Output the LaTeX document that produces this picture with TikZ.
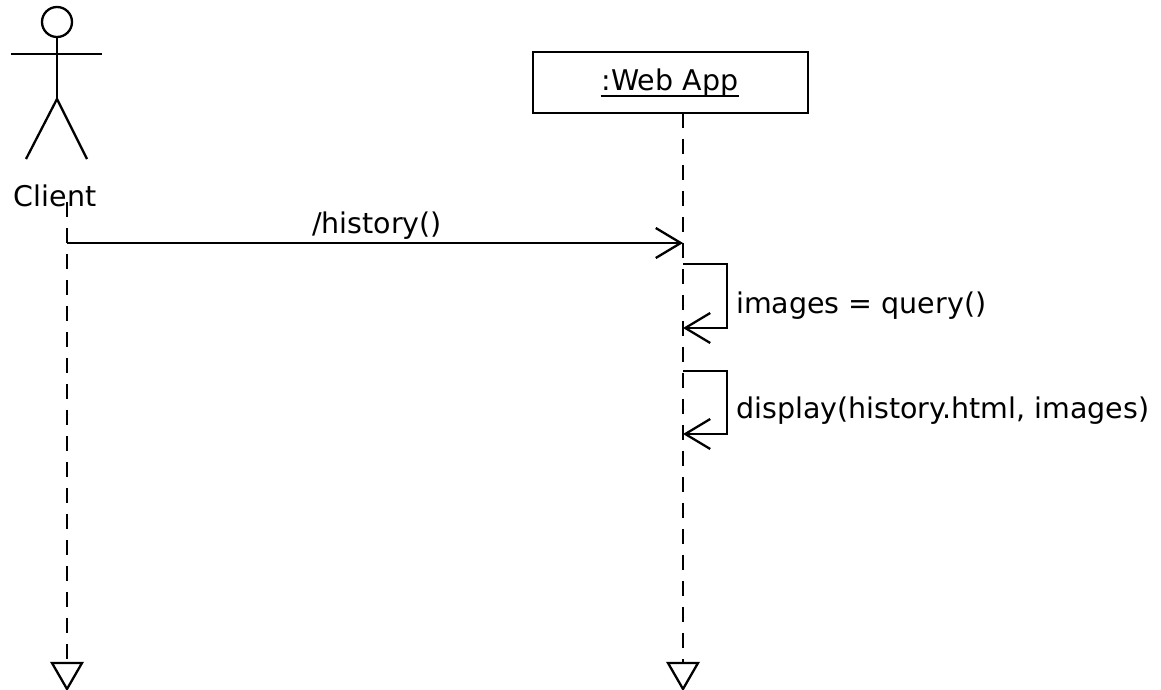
\documentclass[tikz,border=0pt]{standalone}
\usepackage{fontspec}
\setmainfont{DejaVu Sans}
\usetikzlibrary{arrows.meta}
\begin{document}
\begin{tikzpicture}[x=1pt,y=-1pt,line width=2.3pt,
  lbl/.style={inner sep=0pt,font=\fontsize{28.5}{32}\selectfont},
  lifeline/.style={dash pattern=on 15pt off 11pt},
  msg/.style={-{Straight Barb[length=25pt,width=30pt,line width=2.3pt]}}]
\useasboundingbox (0,0) rectangle (1161,690);
% actor figure
\draw (57,22) circle (15);
\draw (57,37) -- (57,99);
\draw (11,54) -- (102,54);
\draw (57,99) -- (26,159);
\draw (57,99) -- (87,159);
\node[lbl,anchor=base] (client) at (55,206) {Client};
% object box with underlined name
\node[draw,minimum width=275pt,minimum height=61pt,inner sep=0pt] (web) at (670.5,82.5) {};
\node[lbl,anchor=base] (webtxt) at (670,91) {:Web App};
\draw[line width=1.8pt] ([yshift=-5pt]webtxt.base west) -- ([yshift=-5pt]webtxt.base east);
% lifelines
\coordinate (c0) at (67,202);
\coordinate (c1) at (67,663);
\coordinate (w0) at (683,113);
\coordinate (w1) at (683,663);
\draw[lifeline] (c0) -- (c1);
\draw[lifeline] (w0) -- (w1);
% lifeline end markers
\draw (52,663) -- (82,663) -- (67,689) -- cycle;
\draw (668,663) -- (698,663) -- (683,689) -- cycle;
% call from the client
\coordinate (m0) at (67,243);
\coordinate (m1) at (683,243);
\draw[msg] (m0) -- (m1);
\node[lbl,anchor=base] (histlbl) at (377,233) {/history()};
% self calls
\coordinate (s1a) at (683,264);
\coordinate (s1b) at (683,328);
\draw[msg] (s1a) -- (727,264) -- (727,328) -- (s1b);
\node[lbl,anchor=base west] (q) at (735,313) {images = query()};
\coordinate (s2a) at (683,371);
\coordinate (s2b) at (683,434);
\draw[msg] (s2a) -- (727,371) -- (727,434) -- (s2b);
\node[lbl,anchor=base west] (d) at (735,418) {display(history.html, images)};
\end{tikzpicture}
\end{document}
